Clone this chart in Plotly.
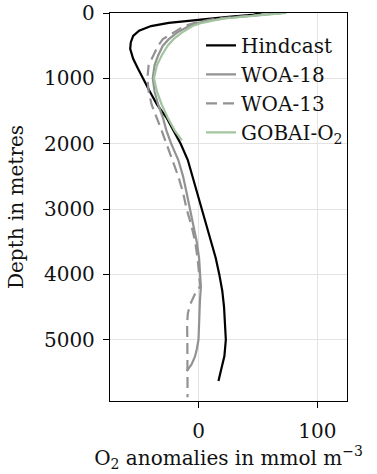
import plotly.graph_objects as go

# ---- data ----
hind_depth = [0, 30, 60, 100, 150, 200, 270, 350, 450, 550, 700, 850, 1000, 1200, 1400,
              1600, 1800, 2000, 2250, 2500, 2750, 3000, 3250, 3500, 3750, 4000, 4250,
              4500, 4750, 5000, 5250, 5450, 5630]
hind_val = [53, 45, 25, 0, -25, -40, -50, -55, -57, -57.5, -55, -51, -47, -41, -35,
            -27, -21, -15, -9, -5, -1.5, 2.5, 7, 11, 14.5, 17.5, 20,
            21.5, 22.5, 23, 21.8, 19.5, 16.8]

woa18_depth = [0, 25, 50, 80, 110, 150, 200, 300, 400, 500, 650, 800, 1000, 1200, 1400,
               1600, 1800, 2000, 2250, 2500, 2750, 3000, 3250, 3500, 3750, 4000, 4190,
               4400, 4600, 4800, 5000, 5150, 5260, 5380, 5480]
woa18_val = [71, 55, 38, 22, 11, 0, -8, -18, -25, -30, -34, -37, -38.5, -37, -34,
             -30, -27, -23, -17, -13, -10, -7, -4, -1.5, 0.5, 1.5, 2,
             1.2, 0.8, 0.3, 0, -1.5, -3, -6, -10]

woa13_depth = [0, 25, 50, 80, 110, 150, 200, 300, 400, 500, 650, 800, 1000, 1200, 1400,
               1600, 1800, 2000, 2250, 2500, 2750, 3000, 3250, 3500, 3750, 4000, 4180,
               4300, 4470, 4600, 4750, 5000, 5250, 5500, 5880]
woa13_val = [70, 52, 35, 18, 8, -3, -12, -21, -30, -34, -38, -42, -43, -42, -39.5,
             -35, -31, -27, -22, -17, -13, -10, -6, -2.8, -0.8, 0.6, 1.5,
             -3, -7.3, -9, -9.6, -9.4, -9.3, -9.2, -9.2]

gobai_depth = [0, 25, 50, 80, 110, 150, 200, 300, 400, 500, 650, 800, 1000, 1200, 1400,
               1600, 1800, 1950]
gobai_val = [74, 57, 40, 24, 14, 3, -5, -14, -21, -26, -31, -35, -37.5, -35, -31,
             -26, -20, -14]

series_names = ["Hindcast", "WOA-18", "WOA-13", "GOBAI-O<sub>2</sub>"]
x_ticks = [0, 100]
y_ticks = [0, 1000, 2000, 3000, 4000, 5000]

FONT = "DejaVu Serif"
GRAY = "#929292"

fig = go.Figure()
fig.add_trace(go.Scatter(x=hind_val, y=hind_depth, mode="lines", name=series_names[0],
                         legendgroup="a", line=dict(color="black", width=2.2)))
fig.add_trace(go.Scatter(x=woa18_val, y=woa18_depth, mode="lines", name=series_names[1],
                         legendgroup="b", line=dict(color=GRAY, width=2.2)))
fig.add_trace(go.Scatter(x=woa13_val, y=woa13_depth, mode="lines", name=series_names[2],
                         legendgroup="c", line=dict(color=GRAY, width=2.2, dash="11px,6px")))
fig.add_trace(go.Scatter(x=gobai_val, y=gobai_depth, mode="lines", name=series_names[3],
                         legendgroup="d", line=dict(color="#a2c49f", width=2.2)))

axis_common = dict(showline=True, mirror=True, linecolor="black", linewidth=1.3,
                   ticks="outside", ticklen=6, tickwidth=1.3, tickcolor="black",
                   showgrid=True, gridcolor="#e3e3e3", gridwidth=1.3, zeroline=False,
                   automargin=False,
                   tickfont=dict(family=FONT, size=20, color="#111111"))

fig.update_layout(
    width=377, height=474,
    margin=dict(l=110, r=30, t=13, b=73),
    paper_bgcolor="white", plot_bgcolor="white",
    font=dict(family=FONT, size=20, color="#111111"),
    xaxis=dict(range=[-74.5, 125], tickvals=x_ticks, ticklabelstandoff=6,
               title=dict(text="O<sub>2</sub> anomalies in mmol m<sup>−3</sup>",
                          font=dict(family=FONT, size=20), standoff=8),
               **axis_common),
    yaxis=dict(range=[5937, 0], tickvals=y_ticks, ticklabelstandoff=4,
               title=dict(text="Depth in metres", font=dict(family=FONT, size=20), standoff=14),
               **axis_common),
    showlegend=True,
    legend=dict(x=0.384, y=0.967, xanchor="left", yanchor="top",
                bgcolor="rgba(0,0,0,0)", borderwidth=0,
                font=dict(family=FONT, size=20, color="#111111"),
                tracegroupgap=0),
)

fig.write_html("out.html")
